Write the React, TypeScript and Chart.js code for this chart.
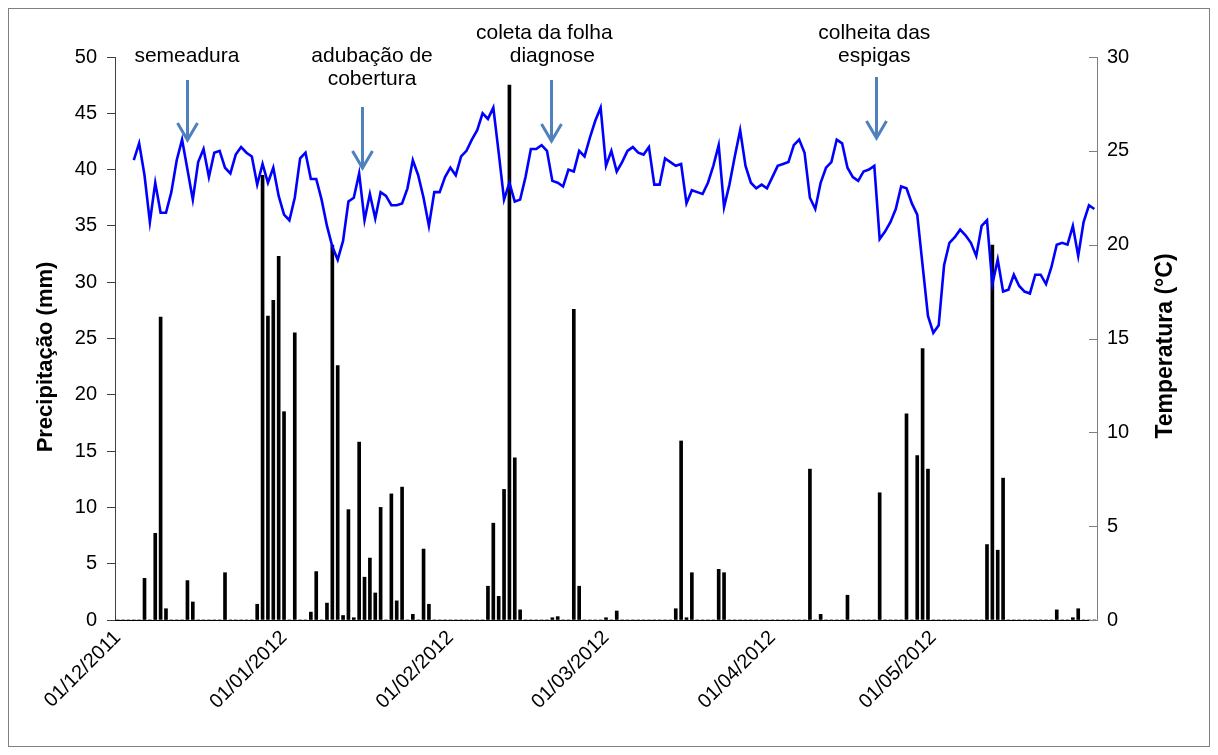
import React, { useEffect, useRef } from 'react';
import { Chart, registerables } from 'chart.js';

Chart.register(...registerables);

// Month keys (mm/yyyy) of the daily x axis, Dec 2011 – May 2012
const monthKeys = ['12/2011', '01/2012', '02/2012', '03/2012', '04/2012', '05/2012'];

// Daily precipitation (mm) per month
const precipDec = [0, 0, 0, 0, 0, 3.7, 0, 7.7, 26.9, 1.0, 0, 0, 0, 3.5, 1.6, 0, 0, 0, 0, 0, 4.2, 0, 0, 0, 0, 0, 1.4, 39.5, 27.0, 28.4, 32.3];
const precipJan = [18.5, 0, 25.5, 0, 0, 0.7, 4.3, 0, 1.5, 33.3, 22.6, 0.4, 9.8, 0.2, 15.8, 3.8, 5.5, 2.4, 10.0, 0, 11.2, 1.7, 11.8, 0, 0.5, 0, 6.3, 1.4, 0, 0, 0];
const precipFeb = [0, 0, 0, 0, 0, 0, 0, 3.0, 8.6, 2.1, 11.6, 47.5, 14.4, 0.9, 0, 0, 0, 0, 0, 0.2, 0.3, 0, 0, 27.6, 3.0, 0, 0, 0, 0];
const precipMar = [0.2, 0, 0.8, 0, 0, 0, 0, 0, 0, 0, 0, 0, 0, 1.0, 15.9, 0.2, 4.2, 0, 0, 0, 0, 4.5, 4.2, 0, 0, 0, 0, 0, 0, 0, 0];
const precipApr = [0, 0, 0, 0, 0, 0, 0, 13.4, 0, 0.5, 0, 0, 0, 0, 2.2, 0, 0, 0, 0, 0, 11.3, 0, 0, 0, 0, 18.3, 0, 14.6, 24.1, 13.4];
const precipMay = [0, 0, 0, 0, 0, 0, 0, 0, 0, 0, 6.7, 33.3, 6.2, 12.6, 0, 0, 0, 0, 0, 0, 0, 0, 0, 0.9, 0, 0, 0.2, 1.0, 0, 0, 0];

// Daily mean temperature (°C) per month
const tempDec = [null, null, null, 24.5, 25.4, 23.7, 21.2, 23.3, 21.7, 21.7, 22.8, 24.5, 25.6, 24.0, 22.4, 24.4, 25.1, 23.6, 24.9, 25.0, 24.1, 23.8, 24.8, 25.2, 24.9, 24.7, 23.2, 24.3, 23.3, 24.1, 22.6];
const tempJan = [21.6, 21.3, 22.5, 24.6, 24.9, 23.5, 23.5, 22.4, 21.0, 19.9, 19.2, 20.2, 22.3, 22.5, 23.8, 21.3, 22.7, 21.4, 22.8, 22.6, 22.1, 22.1, 22.2, 23.0, 24.5, 23.7, 22.5, 21.0, 22.8, 22.8, 23.6];
const tempFeb = [24.1, 23.7, 24.7, 25.0, 25.6, 26.1, 27.0, 26.7, 27.3, 24.9, 22.4, 23.3, 22.3, 22.4, 23.6, 25.1, 25.1, 25.3, 25.0, 23.4, 23.3, 23.1, 24.0, 23.9, 25.0, 24.7, 25.7, 26.6, 27.3];
const tempMar = [24.2, 25.0, 23.9, 24.4, 25.0, 25.2, 24.9, 24.8, 25.2, 23.2, 23.2, 24.6, 24.4, 24.2, 24.3, 22.2, 22.9, 22.8, 22.7, 23.3, 24.2, 25.3, 22.0, 23.2, 24.7, 26.1, 24.2, 23.3, 23.0, 23.2, 23.0];
const tempApr = [23.6, 24.2, 24.3, 24.4, 25.3, 25.6, 24.9, 22.5, 21.9, 23.3, 24.1, 24.4, 25.6, 25.4, 24.1, 23.6, 23.4, 23.9, 24.0, 24.2, 20.3, 20.7, 21.2, 21.9, 23.1, 23.0, 22.2, 21.6, 18.9, 16.2];
const tempMay = [15.3, 15.7, 18.9, 20.1, 20.4, 20.8, 20.5, 20.1, 19.4, 21.0, 21.3, 17.9, 19.2, 17.5, 17.6, 18.4, 17.8, 17.5, 17.4, 18.4, 18.4, 17.9, 18.8, 20.0, 20.1, 20.0, 21.0, 19.4, 21.2, 22.1, 21.9];

const leftTitle = 'Precipitação (mm)';
const rightTitle = 'Temperatura (°C)';

// Event annotations: text lines and the day (index on the x axis) the arrow points to
const eventTexts = [['semeadura'], ['adubação de', 'cobertura'], ['coleta da folha', 'diagnose'], ['colheita das', 'espigas']];
const eventDay = [12.9, 45.6, 80.8, 141.4];

const precipMonths = [precipDec, precipJan, precipFeb, precipMar, precipApr, precipMay];
const tempMonths = [tempDec, tempJan, tempFeb, tempMar, tempApr, tempMay];

const dayLabels: string[] = [];
precipMonths.forEach((arr, m) => {
  arr.forEach((_, d) => {
    const dd = String(d + 1).padStart(2, '0');
    dayLabels.push(`${dd}/${monthKeys[m]}`);
  });
});
const precipitation = precipMonths.flat();
const temperature = tempMonths.flat();

const FONT = '"Liberation Sans", Arial, Helvetica, sans-serif';

// layout details for annotations (canvas px)
const eventStyle = [
  { textDays: [12.9], baselines: [53], top: 71, tip: 131 },
  { textDays: [47.4, 47.4], baselines: [53, 76], top: 98, tip: 159 },
  { textDays: [79.5, 81.0], baselines: [30, 53], top: 71, tip: 132 },
  { textDays: [141.0, 141.0], baselines: [30, 53], top: 68, tip: 129 },
];

const decorPlugin = {
  id: 'decor',
  afterDatasetsDraw(chart: any) {
    const { ctx, chartArea } = chart;
    ctx.save();
    ctx.strokeStyle = '#000000';
    ctx.lineWidth = 1.2;
    const y = Math.round(chartArea.bottom) + 0.5;
    ctx.beginPath();
    ctx.moveTo(chartArea.left, y);
    ctx.lineTo(chartArea.right, y);
    ctx.stroke();
    ctx.restore();
  },
  afterDraw(chart: any) {
    const { ctx, chartArea, scales } = chart;
    ctx.save();
    // inward tick marks on the right axis
    ctx.strokeStyle = '#808080';
    ctx.lineWidth = 1;
    for (const t of scales.y1.ticks) {
      const y = Math.round(scales.y1.getPixelForValue(t.value)) + 0.5;
      ctx.beginPath();
      ctx.moveTo(chartArea.right - 8, y);
      ctx.lineTo(chartArea.right, y);
      ctx.stroke();
    }
    // axis titles (both read bottom to top)
    ctx.fillStyle = '#000';
    ctx.textAlign = 'center';
    ctx.textBaseline = 'middle';
    ctx.font = `bold 22px ${FONT}`;
    ctx.save();
    ctx.translate(37, 348);
    ctx.rotate(-Math.PI / 2);
    ctx.fillText(leftTitle, 0, 0);
    ctx.restore();
    ctx.font = `bold 23px ${FONT}`;
    ctx.save();
    ctx.translate(1157, 337);
    ctx.rotate(-Math.PI / 2);
    ctx.fillText(rightTitle, 0, 0);
    ctx.restore();
    // annotations
    ctx.font = `21px ${FONT}`;
    ctx.textBaseline = 'alphabetic';
    eventTexts.forEach((lines, i) => {
      const st = eventStyle[i];
      lines.forEach((ln, j) => {
        const x = scales.x.getPixelForValue(st.textDays[j]);
        ctx.fillText(ln, x, st.baselines[j]);
      });
      const ax = Math.round(scales.x.getPixelForValue(eventDay[i])) + 0.5;
      ctx.strokeStyle = '#4f81bd';
      ctx.lineWidth = 3;
      ctx.beginPath();
      ctx.moveTo(ax, st.top);
      ctx.lineTo(ax, st.tip);
      ctx.stroke();
      ctx.beginPath();
      ctx.moveTo(ax - 10, st.tip - 17);
      ctx.lineTo(ax, st.tip);
      ctx.lineTo(ax + 10, st.tip - 17);
      ctx.stroke();
    });
    ctx.restore();
  },
};

export default function App() {
  const ref = useRef<HTMLCanvasElement>(null);
  useEffect(() => {
    const canvas = ref.current;
    if (!canvas) return;
    Chart.defaults.font.family = FONT;
    const chart = new Chart(canvas, {
      type: 'bar',
      data: {
        labels: dayLabels,
        datasets: [
          {
            type: 'line',
            label: 'Temperatura',
            data: temperature as any,
            yAxisID: 'y1',
            borderColor: '#0000ff',
            backgroundColor: '#0000ff',
            borderWidth: 2.6,
            pointRadius: 0,
            tension: 0,
            spanGaps: false,
            order: 0,
          } as any,
          {
            type: 'bar',
            label: 'Precipitação',
            data: precipitation,
            yAxisID: 'y',
            backgroundColor: '#000000',
            barThickness: 3,
            order: 1,
          } as any,
        ],
      },
      options: {
        responsive: false,
        animation: false,
        layout: { padding: { top: 48, left: 0, right: 0, bottom: 0 } },
        plugins: { legend: { display: false }, tooltip: { enabled: false } },
        scales: {
          x: {
            type: 'category',
            offset: true,
            grid: { display: false, drawTicks: false },
            border: { display: false },
            ticks: {
              autoSkip: false,
              maxRotation: 45,
              minRotation: 45,
              padding: 6,
              color: '#000',
              font: { size: 20 },
              callback: (_v: any, index: number) => {
                const l = dayLabels[index];
                return l.startsWith('01/') ? l : '';
              },
            },
            afterFit: (s: any) => {
              s.height = 126;
            },
          },
          y: {
            position: 'left',
            min: 0,
            max: 50,
            ticks: { stepSize: 5, color: '#000', font: { size: 20 }, padding: 10 },
            grid: { drawOnChartArea: false, tickLength: 8, color: '#404040' },
            border: { color: '#404040' },
            afterFit: (s: any) => {
              s.width = 106;
            },
          },
          y1: {
            position: 'right',
            min: 0,
            max: 30,
            ticks: { stepSize: 5, color: '#000', font: { size: 20 }, padding: 10 },
            grid: { drawOnChartArea: false, drawTicks: false, color: '#808080' },
            border: { color: '#808080' },
            afterFit: (s: any) => {
              s.width = 112;
            },
          },
        },
      } as any,
      plugins: [decorPlugin],
    });
    return () => chart.destroy();
  }, []);
  return (
    <div style={{ width: 1200, height: 737, border: '1px solid #808080', background: '#fff' }}>
      <canvas ref={ref} width={1200} height={737} style={{ display: 'block' }} />
    </div>
  );
}
